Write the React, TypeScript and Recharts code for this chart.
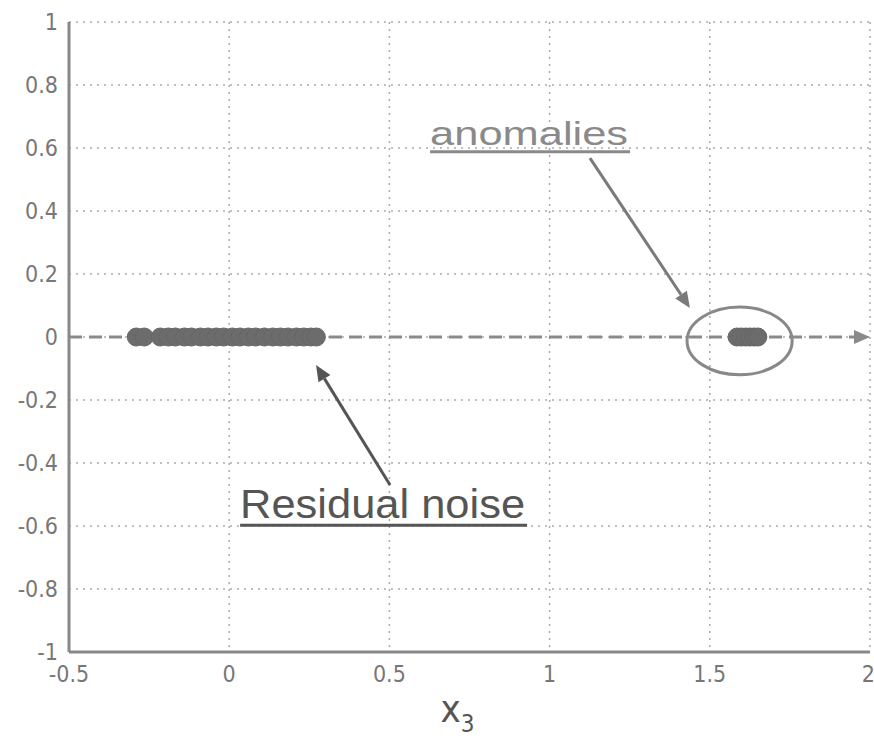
import React from 'react';
import {
  ScatterChart, Scatter, XAxis, YAxis, CartesianGrid,
  ReferenceLine, ReferenceDot, ReferenceArea,
} from 'recharts';

// x3 values of the projected points (all sit on x3 axis, y = 0)
const residualX = [-0.29, -0.265, -0.215, -0.19, -0.168, -0.14, -0.118, -0.09, -0.066, -0.04, -0.017, 0.01, 0.034, 0.06, 0.083, 0.11, 0.136, 0.16, 0.184, 0.21, 0.233, 0.255, 0.272];
const anomalyX = [1.585, 1.598, 1.612, 1.625, 1.638, 1.65];

const xTicks = [-0.5, 0, 0.5, 1, 1.5, 2];
const yTicks = [-1, -0.8, -0.6, -0.4, -0.2, 0, 0.2, 0.4, 0.6, 0.8, 1];

// annotation anchors in data units
const anomalyArrow = [{ x: 1.126, y: 0.568 }, { x: 1.438, y: 0.092 }];
const noiseArrow = [{ x: 0.502, y: -0.47 }, { x: 0.271, y: -0.089 }];
const axisArrow = [{ x: -0.5, y: 0 }, { x: 2, y: 0 }];
const anomalyLabel = { x: 0.627, y: 0.61, text: 'anomalies' };
const noiseLabel = { x: 0.034, y: -0.575, text: 'Residual noise' };

const residualData = residualX.map((x) => ({ x, y: 0 }));
const anomalyData = anomalyX.map((x) => ({ x, y: 0 }));

const tickFont = { fill: '#777', fontSize: 23, fontFamily: '"Liberation Sans Narrow", "DejaVu Sans Condensed", Arial, sans-serif' };

const Dot = (props: any) => (
  <circle cx={props.cx} cy={props.cy} r={9} fill="#6c6c6c" stroke="#666" strokeWidth={1} />
);

const arrowShape = (color: string, width: number, dash?: string) => (props: any) => {
  const { x1, y1, x2, y2 } = props;
  const ang = Math.atan2(y2 - y1, x2 - x1);
  const len = 16;
  const half = 7;
  const bx = x2 - len * Math.cos(ang);
  const by = y2 - len * Math.sin(ang);
  const px = -Math.sin(ang) * half;
  const py = Math.cos(ang) * half;
  return (
    <g>
      <line x1={x1} y1={y1} x2={bx} y2={by} stroke={color} strokeWidth={width} strokeDasharray={dash} />
      <polygon points={`${x2},${y2} ${bx + px},${by + py} ${bx - px},${by - py}`} fill={color} />
    </g>
  );
};

const labelShape = (text: string, size: number, length: number, color: string) => (props: any) => (
  <g>
    <text x={props.cx} y={props.cy} fontSize={size} fill={color} fontFamily="Arial, 'Liberation Sans', sans-serif"
      textLength={length} lengthAdjust="spacingAndGlyphs">{text}</text>
    <line x1={props.cx} y1={props.cy + 7} x2={props.cx + length + 2} y2={props.cy + 7} stroke={color} strokeWidth={3} />
  </g>
);

const ellipseShape = (props: any) => (
  <ellipse cx={props.x + props.width / 2} cy={props.y + props.height / 2} rx={props.width / 2} ry={props.height / 2}
    fill="none" stroke="#888" strokeWidth={3} />
);

const XLabel = (props: any) => {
  const vb = props.viewBox || {};
  const cx = vb.x + vb.width / 2;
  return (
    <text x={cx - 12} y={vb.y + 70} fill="#555" fontSize={38} fontFamily={tickFont.fontFamily} textAnchor="middle">
      x<tspan fontSize={24} dy={10}>3</tspan>
    </text>
  );
};

export default function App() {
  return (
    <div style={{ position: 'absolute', left: 0, top: 0, background: '#fff' }}>
      <ScatterChart width={874} height={738} margin={{ top: 22, right: 4, bottom: 16, left: 9 }}>
        <CartesianGrid stroke="#aaa" strokeDasharray="2 5" strokeWidth={1.5} />
        <XAxis type="number" dataKey="x" domain={[-0.5, 2]} ticks={xTicks} height={70}
          axisLine={{ stroke: '#888', strokeWidth: 3 }} tickLine={false} tick={tickFont} tickMargin={8}
          allowDataOverflow label={{ content: <XLabel /> }} />
        <YAxis type="number" dataKey="y" domain={[-1, 1]} ticks={yTicks} width={60}
          axisLine={{ stroke: '#888', strokeWidth: 3 }} tickLine={false} tick={tickFont} tickMargin={5}
          tickFormatter={(v: number) => String(v)} />
        <ReferenceLine segment={axisArrow} shape={arrowShape('#8a8a8a', 3, '13 7')} ifOverflow="visible" />
        <ReferenceArea x1={1.429} x2={1.757} y1={-0.12} y2={0.095} shape={ellipseShape} ifOverflow="visible" />
        <Scatter data={residualData} shape={Dot} isAnimationActive={false} />
        <Scatter data={anomalyData} shape={Dot} isAnimationActive={false} />
        <ReferenceLine segment={anomalyArrow} shape={arrowShape('#7a7a7a', 3)} ifOverflow="visible" />
        <ReferenceLine segment={noiseArrow} shape={arrowShape('#555', 3)} ifOverflow="visible" />
        <ReferenceDot x={anomalyLabel.x} y={anomalyLabel.y} shape={labelShape(anomalyLabel.text, 34, 198, '#8a8a8a')} ifOverflow="visible" />
        <ReferenceDot x={noiseLabel.x} y={noiseLabel.y} shape={labelShape(noiseLabel.text, 40, 285, '#555')} ifOverflow="visible" />
      </ScatterChart>
    </div>
  );
}
